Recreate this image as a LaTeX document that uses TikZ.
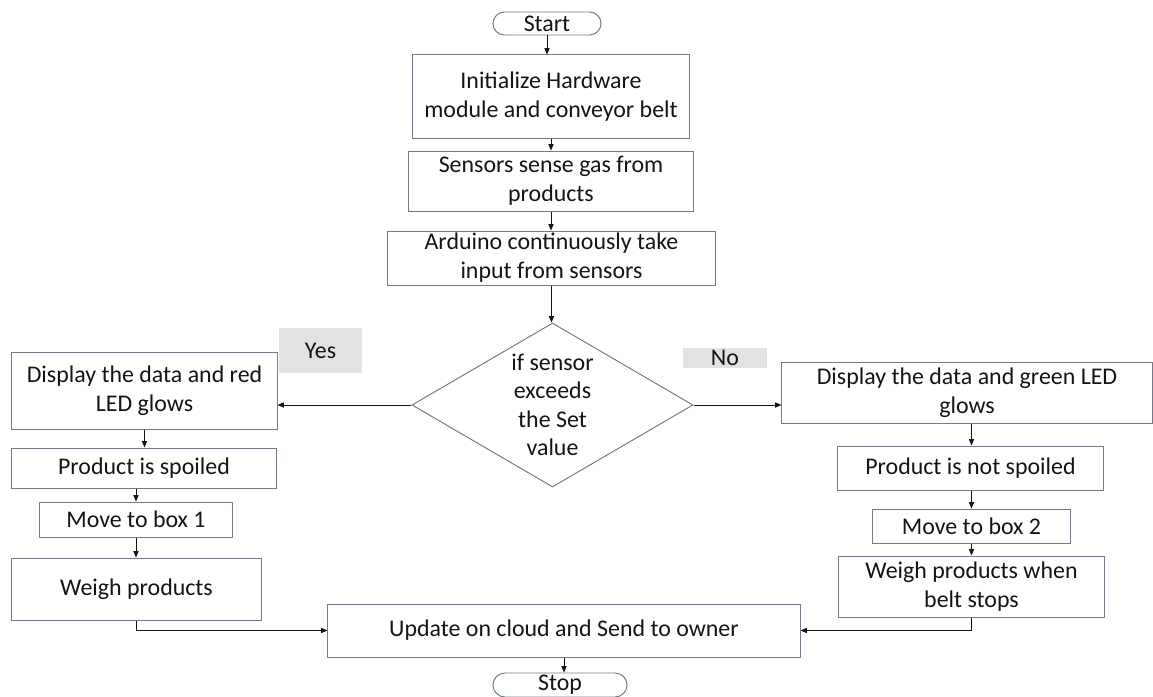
\documentclass[tikz,border=0pt]{standalone}
\usepackage{fontspec}
\setmainfont{Carlito}
\usetikzlibrary{arrows.meta,positioning,shapes.geometric,shapes.misc}
\definecolor{frame}{RGB}{112,124,138}
\definecolor{ink}{RGB}{20,20,20}
\definecolor{shade}{RGB}{226,226,226}
\tikzset{
  >={Triangle[length=1.6mm,width=1.3mm]},
  box/.style n args={2}{draw=frame,line width=0.7pt,fill=white,text=ink,
    align=center,inner sep=1pt,minimum width=#1,minimum height=#2,
    font=\fontsize{17}{20.6}\selectfont},
  term/.style n args={2}{rounded rectangle,draw=frame,line width=0.7pt,text=ink,
    inner sep=0pt,minimum width=#1,minimum height=#2,
    font=\fontsize{17}{20.6}\selectfont},
  decision/.style={diamond,draw=frame,line width=0.7pt,text=ink,align=center,
    inner sep=0pt,aspect=1.71,minimum width=7.025cm,minimum height=4.1cm,
    font=\fontsize{17}{20.3}\selectfont},
  tag/.style n args={2}{fill=shade,text=ink,inner sep=0pt,minimum width=#1,
    minimum height=#2,font=\fontsize{17}{20.6}\selectfont},
  flow/.style={->,draw=ink,line width=0.6pt},
}

\begin{document}
\begin{tikzpicture}[x=0.025cm,y=-0.025cm]
  \path[use as bounding box] (0,0) rectangle (1153,697);

  % main column
  \node[term={2.7cm}{0.575cm}] (start) at (547,23.5) {Start};
  \node[box={6.9cm}{2.075cm}] (init) at (551,96.5) {Initialize Hardware\\module and conveyor belt};
  \node[box={7.1cm}{1.5cm}] (sense) at (551,181) {Sensors sense gas from\\products};
  \node[box={8.175cm}{1.35cm}] (read) at (551.5,258) {Arduino continuously take\\input from sensors};
  \node[decision] (check) at (552.5,405) {if sensor\\exceeds\\the Set\\value};
  \node[tag={2.075cm}{1.125cm}] (yes) at (320.5,350.5) {Yes};
  \node[tag={2.1cm}{0.5cm}] (no) at (725,358) {No};

  % spoiled branch
  \node[box={6.625cm}{1.925cm}] (redled) at (144.5,390.5) {Display the data and red\\LED glows};
  \node[box={6.6cm}{1cm}] (spoiled) at (144,468) {Product is spoiled};
  \node[box={4.8cm}{0.875cm}] (boxone) at (136,519.5) {Move to box 1};
  \node[box={6.225cm}{1.55cm}] (weighone) at (136.5,589) {Weigh products};

  % fresh branch
  \node[box={9.25cm}{1.525cm}] (greenled) at (967,392.5) {Display the data and green LED\\glows};
  \node[box={6.625cm}{1.1cm}] (fresh) at (970.5,468) {Product is not spoiled};
  \node[box={4.95cm}{0.85cm}] (boxtwo) at (971.5,526) {Move to box 2};
  \node[box={6.625cm}{1.525cm}] (weightwo) at (971.5,586.5) {Weigh products when\\belt stops};

  \node[box={11.8cm}{1.325cm}] (update) at (564,630.5) {Update on cloud and Send to owner};
  \node[term={3.35cm}{0.6cm}] (stop) at (560,685) {Stop};

  % connectors
  \draw[flow] (start.south) -- (start.south |- init.north);
  \draw[flow] (init.south) -- (init.south |- sense.north);
  \draw[flow] (sense.south) -- (sense.south |- read.north);
  \draw[flow] (read.south) -- (read.south |- check.north);
  \draw[flow] (check.west) -- (check.west -| redled.east);
  \draw[flow] (check.east) -- (check.east -| greenled.west);
  \draw[flow] (redled.south) -- (redled.south |- spoiled.north);
  \draw[flow] (boxone.north |- spoiled.south) -- (boxone.north);
  \draw[flow] (boxone.south) -- (boxone.south |- weighone.north);
  \draw[flow] (boxtwo.north |- greenled.south) -- (boxtwo.north |- fresh.north);
  \draw[flow] (boxtwo.north |- fresh.south) -- (boxtwo.north);
  \draw[flow] (boxtwo.south) -- (boxtwo.south |- weightwo.north);
  \draw[flow] (boxone.south |- weighone.south) |- (update.west);
  \draw[flow] (boxtwo.south |- weightwo.south) |- (update.east);
  \draw[flow] (update.south) -- (update.south |- stop.north);
\end{tikzpicture}
\end{document}
